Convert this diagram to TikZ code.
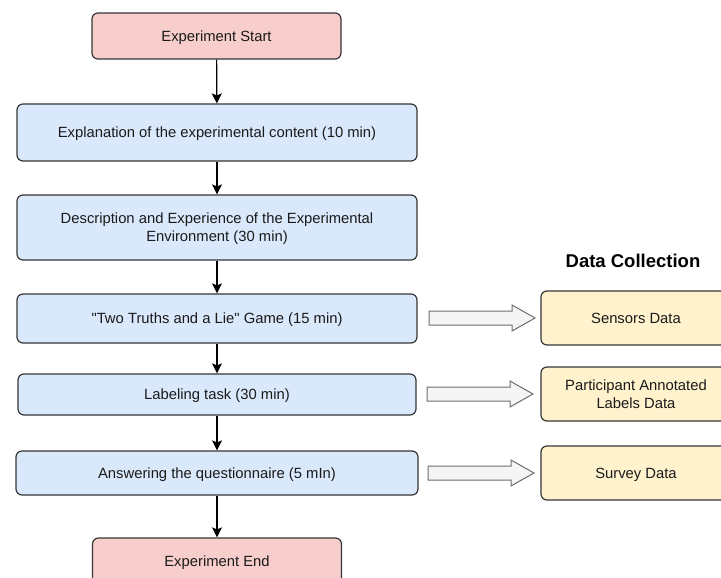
\documentclass[tikz,border=0pt]{standalone}
\usepackage{fontspec}
\setmainfont{Liberation Sans}[Ligatures=TeXOff]
\usetikzlibrary{arrows.meta}

\definecolor{stepred}{HTML}{F8CECC}
\definecolor{stepblue}{HTML}{DAE8FC}
\definecolor{datayellow}{HTML}{FFF2CC}
\definecolor{boxline}{HTML}{363636}
\definecolor{textgray}{HTML}{1A1A1A}
\definecolor{bigarrow}{HTML}{F5F5F5}
\definecolor{bigarrowline}{HTML}{6E6E6E}

\begin{document}
\begin{tikzpicture}[x=1pt,y=-1pt,
    box/.style={draw=boxline, line width=1.2pt, rounded corners=6pt, align=center,
        inner sep=0pt, text depth=0pt, text=textgray, font=\fontsize{14.8}{18}\selectfont},
    endbox/.style={box, fill=stepred, minimum width=249pt, minimum height=46pt},
    stepbox/.style={box, fill=stepblue},
    databox/.style={box, fill=datayellow, minimum width=190pt, minimum height=54pt},
    flow/.style={draw=black, line width=1.2pt, -{Stealth[length=10pt,width=10pt,inset=2pt]}},
    feed/.style={draw=bigarrowline, fill=bigarrow, line width=1pt}]
\useasboundingbox (0,0) rectangle (721,578);

% main procedure
\node[endbox] (start) at (216.5,36) {Experiment Start};
\node[stepbox, minimum width=400pt, minimum height=57pt] (expl) at (217,132.5)
    {Explanation of the experimental content (10 min)};
\node[stepbox, minimum width=400pt, minimum height=65pt] (desc) at (217,227.5)
    {Description and Experience of the Experimental\\Environment (30 min)};
\node[stepbox, minimum width=400pt, minimum height=49pt] (game) at (217,318.5)
    {"Two Truths and a Lie" Game (15 min)};
\node[stepbox, minimum width=398pt, minimum height=41pt] (label) at (217,394.5)
    {Labeling task (30 min)};
\node[stepbox, minimum width=402pt, minimum height=44pt] (quest) at (217,473)
    {Answering the questionnaire (5 mIn)};
\node[endbox] (end) at (217,561) {Experiment End};

\draw[flow] (start) -- (expl);
\draw[flow] (expl) -- (desc);
\draw[flow] (desc) -- (game);
\draw[flow] (game) -- (label);
\draw[flow] (label) -- (quest);
\draw[flow] (quest) -- (end);

% data collection
\node[text=black, font=\bfseries\fontsize{18.5}{22}\selectfont] (title) at (633,261) {Data Collection};
\node[databox] (sens) at (636,318) {Sensors Data};
\node[databox] (annot) at (636,394) {Participant Annotated\\Labels Data};
\node[databox] (surv) at (636,473) {Survey Data};

% block arrows
\foreach \x/\y in {429/318, 427/394, 428/473}
{   \draw[feed] (\x,\y-7) -- ++(83,0) -- ++(0,-6) -- ++(23,13)
        -- ++(-23,13) -- ++(0,-6) -- ++(-83,0) -- cycle;
}
\end{tikzpicture}
\end{document}
